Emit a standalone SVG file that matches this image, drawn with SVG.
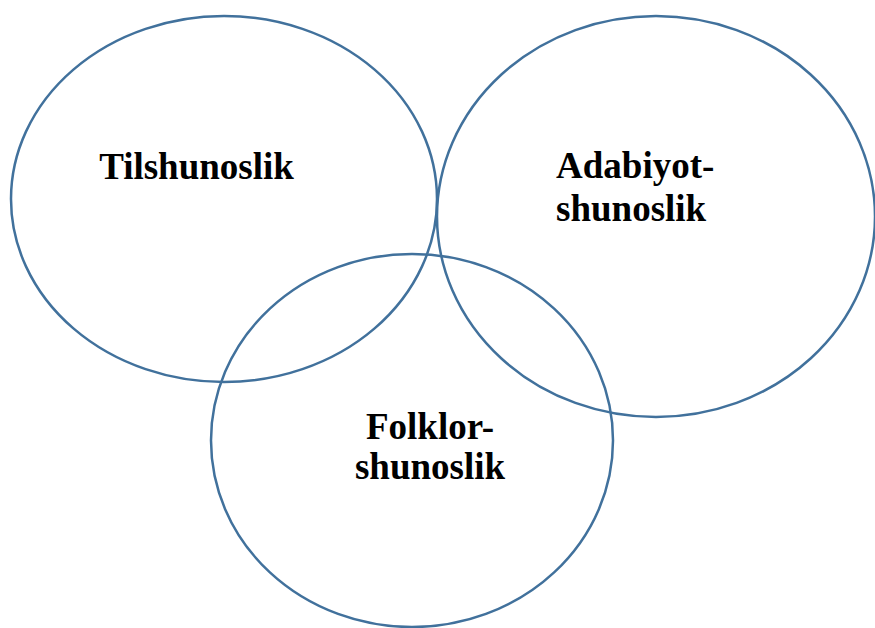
<svg xmlns="http://www.w3.org/2000/svg" width="875" height="628" viewBox="0 0 875 628">
<style>
.c{fill:none;stroke:#41719C;stroke-width:2.5}
.t{font-family:"Liberation Serif","Times New Roman",serif;font-weight:bold;font-size:37px;fill:#000}
</style>
<rect width="875" height="628" fill="#fff"/>
<g id="tilshunoslik">
<ellipse class="c" cx="224" cy="199" rx="213" ry="183"/>
<text class="t" x="196.5" y="179" text-anchor="middle">Tilshunoslik</text>
</g>
<g id="adabiyotshunoslik">
<ellipse class="c" cx="656" cy="216.5" rx="219" ry="200.5"/>
<text class="t" x="556" y="178">Adabiyot-</text>
<text class="t" x="556" y="221">shunoslik</text>
</g>
<g id="folklorshunoslik">
<ellipse class="c" cx="412" cy="440.5" rx="201" ry="186.5"/>
<text class="t" x="430" y="439" text-anchor="middle">Folklor-</text>
<text class="t" x="430" y="479" text-anchor="middle">shunoslik</text>
</g>
<g id="connectors"></g>
</svg>
